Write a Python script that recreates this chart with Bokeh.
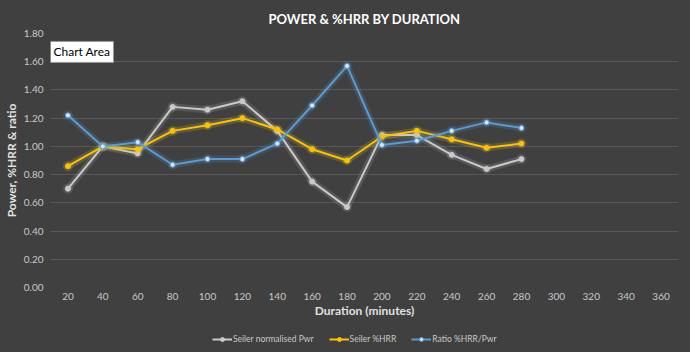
from bokeh.plotting import figure
from bokeh.layouts import column
from bokeh.models import Range1d, Label, Legend, LegendItem, FixedTicker, NumeralTickFormatter
from bokeh.embed import file_html
from bokeh.resources import INLINE

duration = [20, 40, 60, 80, 100, 120, 140, 160, 180, 200, 220, 240, 260, 280]
seiler_pwr = [0.70, 1.00, 0.95, 1.28, 1.26, 1.32, 1.11, 0.75, 0.57, 1.08, 1.08, 0.94, 0.84, 0.91]
seiler_hrr = [0.86, 1.00, 0.98, 1.11, 1.15, 1.20, 1.12, 0.98, 0.90, 1.07, 1.11, 1.05, 0.99, 1.02]
ratio = [1.22, 1.00, 1.03, 0.87, 0.91, 0.91, 1.02, 1.29, 1.57, 1.01, 1.04, 1.11, 1.17, 1.13]
series_names = ["Seiler normalised Pwr", "Seiler %HRR", "Ratio %HRR/Pwr"]
x_ticks = list(range(20, 361, 20))
y_ticks = [0.0, 0.2, 0.4, 0.6, 0.8, 1.0, 1.2, 1.4, 1.6, 1.8]

BG = "#404040"
FONT = "Lato"

p = figure(width=690, height=326, output_backend="svg", toolbar_location=None,
           x_range=Range1d(10, 370), y_range=Range1d(0, 1.8),
           title="POWER & %HRR BY DURATION",
           min_border_left=50, min_border_right=12, min_border_top=33, min_border_bottom=39,
           styles={"background-color": BG})
p.background_fill_color = BG
p.border_fill_color = BG
p.outline_line_color = None

p.title.align = "center"
p.title.text_color = "white"
p.title.text_font = FONT
p.title.text_font_style = "bold"
p.title.text_font_size = "13px"
p.title.offset = -10
p.title.standoff = 14

p.xgrid.grid_line_color = None
p.ygrid.grid_line_color = "#585858"
p.ygrid.grid_line_width = 1
p.ygrid.ticker = FixedTicker(ticks=y_ticks)

for ax in (p.xaxis[0], p.yaxis[0]):
    ax.axis_line_color = None
    ax.major_tick_line_color = None
    ax.minor_tick_line_color = None
    ax.major_tick_out = 0
    ax.major_tick_in = 0
    ax.minor_tick_out = 0
    ax.major_label_text_color = "#c8c8c8"
    ax.major_label_text_font = FONT
    ax.major_label_text_font_size = "10px"
    ax.axis_label_text_color = "#e0e0e0"
    ax.axis_label_text_font = FONT
    ax.axis_label_text_font_style = "bold"
    ax.axis_label_text_font_size = "12px"
p.xaxis.ticker = FixedTicker(ticks=x_ticks)
p.yaxis.ticker = FixedTicker(ticks=y_ticks)
p.yaxis.formatter = NumeralTickFormatter(format="0.00")
p.xaxis.major_label_standoff = 5
p.yaxis.major_label_standoff = 7
p.xaxis.axis_label = "Duration (minutes)"
p.yaxis.axis_label = "Power, %HRR & ratio"
p.xaxis.axis_label_standoff = 0
p.yaxis.axis_label_standoff = 2

series = [
    (series_names[0], seiler_pwr, "#c9c9c9", "#bdbdbd", "#c9c9c9"),
    (series_names[1], seiler_hrr, "#ffc000", "#e8d23a", "#ffc000"),
    (series_names[2], ratio, "#5b9bd5", "#5b9bd5", "#dce6f2"),
]

# legend strip
lg = figure(width=690, height=26, output_backend="svg", toolbar_location=None,
            x_range=Range1d(0, 1), y_range=Range1d(0, 1),
            x_axis_location=None, y_axis_location=None,
            min_border_left=50, min_border_right=12, min_border_top=0, min_border_bottom=0,
            styles={"background-color": BG})
lg.background_fill_color = BG
lg.border_fill_color = BG
lg.outline_line_color = None
lg.grid.visible = False

items = []
for name, vals, col, glow, mfill in series:
    p.line(duration, vals, line_color=glow, line_width=7, line_alpha=0.18)
    p.scatter(duration, vals, size=10, fill_color=glow, fill_alpha=0.18, line_color=None)
    p.line(duration, vals, line_color=col, line_width=2)
    p.scatter(duration, vals, size=5, fill_color=mfill, line_color=col, line_width=1)
    l1 = lg.line([-5, -4], [-5, -5], line_color=col, line_width=2)
    l2 = lg.scatter([-5], [-5], size=4, fill_color=mfill, line_color=col)
    items.append(LegendItem(label=name, renderers=[l1, l2]))

legend = Legend(items=items, orientation="horizontal", location=(162, 8),
                background_fill_alpha=0, border_line_color=None,
                label_text_color="#c8c8c8", label_text_font=FONT, label_text_font_size="8.5px",
                glyph_width=20, glyph_height=10, spacing=15, label_standoff=1, padding=0, margin=0)
lg.add_layout(legend, "center")

p.add_layout(Label(x=0, y=1.595, x_units="screen", text="Chart Area", text_color="black",
                   text_font=FONT, text_font_size="12px", text_align="left", text_baseline="bottom",
                   background_fill_color="white", border_line_color="#999999", padding=3))

layout = column(p, lg, spacing=0, styles={"background-color": BG})
open("out.html", "w").write(file_html(layout, INLINE))
